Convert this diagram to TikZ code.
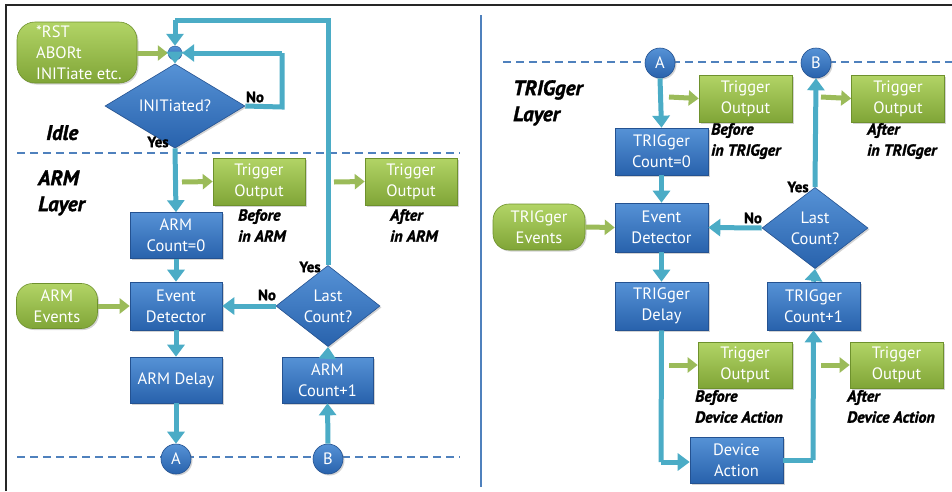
\documentclass[tikz,border=0pt]{standalone}
\usepackage{fontspec}
\setmainfont{PT Sans}
\newfontfamily\heavyfont{PT Sans}[BoldFeatures={FakeBold=1.5},BoldItalicFeatures={FakeBold=1.5}]
\usetikzlibrary{shapes.geometric,arrows.meta,shadows}
\definecolor{conn}{RGB}{75,172,198}
\definecolor{bluetop}{RGB}{86,146,214}
\definecolor{bluebot}{RGB}{40,98,172}
\definecolor{blueline}{RGB}{36,82,145}
\definecolor{grntop}{RGB}{178,212,102}
\definecolor{grnbot}{RGB}{128,165,55}
\definecolor{grnline}{RGB}{110,145,45}
\definecolor{grnarrow}{RGB}{155,187,89}
\definecolor{dashc}{RGB}{79,129,189}
\tikzset{
  bx/.style={rectangle, top color=bluetop, bottom color=bluebot, draw=blueline, line width=0.6pt,
    text=white, align=center, inner sep=0pt, font=\fontsize{16.5}{21}\selectfont,
    drop shadow={shadow xshift=1.5pt, shadow yshift=-1.5pt, opacity=0.35}},
  gbx/.style={rectangle, top color=grntop, bottom color=grnbot, draw=grnline, line width=0.6pt,
    text=white, align=center, inner sep=0pt, font=\fontsize{16.5}{21}\selectfont,
    drop shadow={shadow xshift=1.5pt, shadow yshift=-1.5pt, opacity=0.35}},
  gev/.style={gbx, rounded corners=16pt},
  dia/.style={diamond, top color=bluetop, bottom color=bluebot, draw=blueline, line width=0.6pt,
    text=white, align=center, inner sep=0pt, font=\fontsize{16.5}{21}\selectfont,
    drop shadow={shadow xshift=1.5pt, shadow yshift=-1.5pt, opacity=0.35}},
  cc/.style={circle, top color=bluetop, bottom color=bluebot, draw=blueline, line width=0.6pt,
    text=white, inner sep=0pt, minimum size=30pt, font=\fontsize{16.5}{18}\selectfont,
    drop shadow={shadow xshift=1.5pt, shadow yshift=-1.5pt, opacity=0.35}},
  cn/.style={draw=conn, line width=5pt, -{Triangle[width=17pt,length=12pt]}},
  cnl/.style={draw=conn, line width=5pt},
  ga/.style={draw=grnarrow, line width=5pt, -{Triangle[width=15pt,length=10pt]}},
  lbl/.style={font=\heavyfont\fontsize{16}{21}\selectfont\bfseries\itshape, align=left, anchor=north west, inner sep=0pt},
  yn/.style={font=\heavyfont\fontsize{15}{16}\selectfont\bfseries, inner sep=0pt},
  layer/.style={font=\heavyfont\fontsize{21}{26}\selectfont\bfseries\itshape, align=left, anchor=north west, inner sep=0pt},
  dl/.style={draw=dashc, line width=2pt, dash pattern=on 8pt off 5pt},
}
\begin{document}
\begin{tikzpicture}[x=1pt,y=-1pt]
\useasboundingbox (0,0) rectangle (952,491);
% frame
\draw[line width=1.8pt, color=black!85] (6,491) -- (6,5) -- (952,5);
\draw[line width=2pt, color=dashc] (481,15) -- (481,487);
% dashed separators
\draw[dl] (17,153) -- (460,153);
\draw[dl] (17,457) -- (460,457);
\draw[dl] (503,62) -- (952,62);

% ===== left panel =====
\node[gev, minimum width=120pt, minimum height=61pt, rounded corners=18pt] (rst) at (77,52.5) {};
\node[anchor=west, align=left, text=white, font=\fontsize{16.5}{21}\selectfont, inner sep=0pt] (rsttxt) at (36,53) {*RST\\ABORt\\INITiate etc.};
\node[circle, top color=bluetop, bottom color=bluebot, draw=blueline, minimum size=14pt, inner sep=0pt] (j) at (175,53) {};
\node[dia, minimum width=140pt, minimum height=45pt] (init) at (175,106) {INITiated?};
\node[bx, minimum width=92pt, minimum height=46pt] (cnt0) at (176,235.5) {ARM\\Count=0};
\node[bx, minimum width=92pt, minimum height=48pt] (ed) at (176,306) {Event\\Detector};
\node[bx, minimum width=92pt, minimum height=46pt] (delay) at (176,380) {ARM Delay};
\node[cc] (A) at (176,459) {A};
\node[cc] (B) at (328,459) {B};
\node[bx, minimum width=91pt, minimum height=46pt] (cnt1) at (327.5,380) {ARM\\Count+1};
\node[dia, minimum width=104pt, minimum height=60pt] (last) at (328,306) {Last\\Count?};
\node[gev, minimum width=81pt, minimum height=45pt] (armev) at (57,306) {ARM\\Events};
\node[gbx, minimum width=92pt, minimum height=47pt] (to1) at (259,181.5) {Trigger\\Output};
\node[gbx, minimum width=92pt, minimum height=47pt] (to2) at (411,181.5) {Trigger\\Output};

\coordinate (noR) at (282,107);
\coordinate (noT) at (282,53);
\coordinate (lpA) at (328,20);
\coordinate (lpB) at (175,20);
\coordinate (g1) at (182,182);
\coordinate (g2) at (334,182);

\draw[ga] (rst.east |- j) -- (j.west);
\draw[cn] (j.south) -- (init.north);
\draw[cnl] (init.east) -- (noR) -- (noT);
\draw[cn] (noT) -- (j.east);
\draw[cn] (init.south) -- (cnt0.north);
\draw[cn] (cnt0.south) -- (ed.north);
\draw[cn] (ed.south) -- (delay.north);
\draw[cn] (delay.south) -- (A.north);
\draw[cn] (B.north) -- (cnt1.south);
\draw[cn] (cnt1.north) -- (last.south);
\draw[cn] (last.west) -- (ed.east);
\draw[cnl] (last.north) -- (lpA) -- (lpB);
\draw[cn] (lpB) -- (j.north);
\draw[ga] (armev.east) -- (ed.west);
\draw[ga] (g1) -- (to1.west);
\draw[ga] (g2) -- (to2.west);

\node[yn] (no1) at (255,97) {No};
\node[yn] (yes1) at (158,142) {Yes};
\node[yn] (no2) at (267,295) {No};
\node[yn] (yes2) at (310,267) {Yes};
\node[layer] (idle) at (46,125) {Idle};
\node[layer] (arml) at (38,170) {ARM\\Layer};
\node[lbl] (bef1) at (238,209) {Before\\in ARM};
\node[lbl] (aft1) at (390,209) {After\\in ARM};

% ===== right panel =====
\node[cc] (A2) at (660,63) {A};
\node[cc] (B2) at (816,63) {B};
\node[bx, minimum width=93pt, minimum height=47pt] (tcnt0) at (661.5,151.5) {TRIGger\\Count=0};
\node[bx, minimum width=93pt, minimum height=49pt] (ted) at (661.5,227.5) {Event\\Detector};
\node[gev, minimum width=92pt, minimum height=46pt] (tev) at (539,227) {TRIGger\\Events};
\node[bx, minimum width=93pt, minimum height=48pt] (tdelay) at (661.5,306) {TRIGger\\Delay};
\node[dia, minimum width=106pt, minimum height=60pt] (tlast) at (815,228) {Last\\Count?};
\node[bx, minimum width=93pt, minimum height=48pt] (tcnt1) at (813.5,306) {TRIGger\\Count+1};
\node[bx, minimum width=93pt, minimum height=46pt] (dev) at (736.5,460) {Device\\Action};
\node[gbx, minimum width=93pt, minimum height=47pt] (to3) at (745.5,98.5) {Trigger\\Output};
\node[gbx, minimum width=93pt, minimum height=47pt] (to4) at (898,98.5) {Trigger\\Output};
\node[gbx, minimum width=94pt, minimum height=46pt] (to5) at (745,365) {Trigger\\Output};
\node[gbx, minimum width=93pt, minimum height=46pt] (to6) at (896.5,365) {Trigger\\Output};

\coordinate (dl1) at (661,462);
\coordinate (dr1) at (813,460);
\coordinate (g3) at (669,97);
\coordinate (g4) at (821,97);
\coordinate (g5) at (669,365);
\coordinate (g6) at (821,365);

\draw[cn] (A2.south) -- (tcnt0.north);
\draw[cn] (tcnt0.south) -- (ted.north);
\draw[cn] (ted.south) -- (tdelay.north);
\draw[cnl] (tdelay.south) -- (dl1);
\draw[cn] (dl1) -- (dev.west |- dl1);
\draw[cnl] (dev.east |- dr1) -- (dr1);
\draw[cn] (dr1) -- (tcnt1.south);
\draw[cn] (tcnt1.north) -- (tlast.south);
\draw[cn] (tlast.north) -- (B2.south);
\draw[cn] (tlast.west) -- (ted.east);
\draw[ga] (tev.east) -- (ted.west);
\draw[ga] (g3) -- (to3.west);
\draw[ga] (g4) -- (to4.west);
\draw[ga] (g5) -- (to5.west);
\draw[ga] (g6) -- (to6.west);

\node[yn] (no3) at (753,218) {No};
\node[yn] (yes3) at (798,187) {Yes};
\node[layer] (trigl) at (513,80) {TRIGger\\Layer};
\node[lbl] (bef2) at (711,123) {Before\\in TRIGger};
\node[lbl] (aft2) at (867,123) {After\\in TRIGger};
\node[lbl] (bef3) at (695,390) {Before\\Device Action};
\node[lbl] (aft3) at (847,390) {After\\Device Action};
\end{tikzpicture}
\end{document}
